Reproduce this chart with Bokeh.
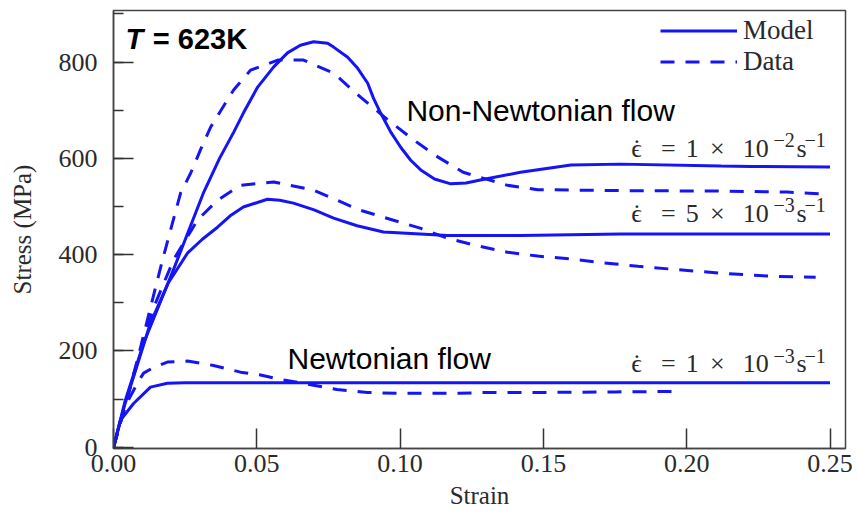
from bokeh.plotting import figure
from bokeh.models import (Range1d, FixedTicker, SingleIntervalTicker, NumeralTickFormatter,
                          Label, Legend, LegendItem)
from bokeh.embed import file_html
from bokeh.resources import INLINE

# ---- data ----
# strain rate 1e-2 s^-1
model_1e2_x = [0, 0.004, 0.0105, 0.021, 0.0315, 0.037, 0.042, 0.0454, 0.0503, 0.0559, 0.0607, 0.0652,
               0.0698, 0.0747, 0.0768, 0.0817, 0.0852, 0.0887, 0.0907, 0.0932, 0.0967, 0.1002, 0.1037,
               0.1072, 0.112, 0.1177, 0.123, 0.128, 0.142, 0.1596, 0.177, 0.212, 0.2224, 0.25]
model_1e2_y = [0, 95, 216, 370, 530, 600, 655, 695, 748, 790, 819, 835,
               842, 839, 831, 810, 787, 756, 725, 694, 655, 623, 596,
               576, 557, 547, 549, 555, 571, 586, 588, 584, 583, 582]
data_1e2_x = [0, 0.004, 0.0085, 0.0129, 0.0171, 0.0234, 0.0269, 0.0303, 0.0339, 0.0419, 0.0478, 0.0573,
              0.0663, 0.0768, 0.0862, 0.0957, 0.1048, 0.1131, 0.122, 0.1375, 0.148, 0.176, 0.211, 0.235, 0.248]
data_1e2_y = [0, 85, 185, 290, 389, 528, 569, 617, 665, 742, 783, 804,
              804, 777, 727, 680, 638, 603, 571, 544, 535, 533, 532, 530, 526]

# strain rate 5e-3 s^-1
model_5e3_x = [0, 0.004, 0.0129, 0.019, 0.0258, 0.031, 0.0363, 0.041, 0.0453, 0.0537, 0.058, 0.0628,
               0.07, 0.0768, 0.085, 0.0942, 0.107, 0.1166, 0.142, 0.177, 0.212, 0.25]
model_5e3_y = [0, 90, 258, 340, 403, 432, 457, 482, 499, 515, 513, 507,
               493, 476, 460, 447, 443, 440, 440, 443, 443, 443]
data_5e3_x = [0, 0.004, 0.0085, 0.014, 0.021, 0.0293, 0.0363, 0.0443, 0.0559, 0.0698, 0.0862, 0.107,
              0.1166, 0.1257, 0.1375, 0.148, 0.1596, 0.171, 0.183, 0.1945, 0.2128, 0.23, 0.245]
data_5e3_y = [0, 85, 180, 290, 390, 472, 513, 544, 551, 534, 492, 455,
              434, 420, 405, 397, 391, 383, 376, 370, 361, 355, 353]

# strain rate 1e-3 s^-1
model_1e3_x = [0, 0.0024, 0.007, 0.0129, 0.0188, 0.025, 0.05, 0.1, 0.15, 0.2, 0.25]
model_1e3_y = [0, 56, 91, 125, 133, 134, 134, 134, 134, 134, 134]
data_1e3_x = [0, 0.004, 0.0085, 0.0105, 0.014, 0.0188, 0.0258, 0.0349, 0.0443, 0.0513, 0.0583,
              0.0698, 0.078, 0.0886, 0.099, 0.1096, 0.12, 0.1305, 0.1514, 0.175, 0.197]
data_1e3_y = [0, 85, 135, 154, 166, 177, 179, 170, 156, 150, 141,
              129, 120, 114, 112, 112, 112, 114, 114, 115, 116]

x_ticks = [0.0, 0.05, 0.10, 0.15, 0.20, 0.25]
rate_mantissa = ["1", "5", "1"]
rate_exponent = ["\u22122", "\u22123", "\u22123"]
rate_label_y = [621, 486, 173]
rate_label_right = 0.2485

BLUE = "#1414F5"
SERIF = "Liberation Serif"
SANS = "Liberation Sans"
DASH = "14 11"
TXT = "#2a2a2a"

p = figure(width=858, height=513, output_backend="svg", toolbar_location=None,
           x_range=Range1d(0, 0.2554), y_range=Range1d(-2.5, 907),
           min_border_left=113, min_border_right=13, min_border_top=10, min_border_bottom=65)
p.grid.visible = False
p.outline_line_color = "#444444"
p.outline_line_width = 1.5
p.background_fill_color = "white"
p.border_fill_color = "white"

r_m1 = p.line(model_1e2_x, model_1e2_y, line_color=BLUE, line_width=3)
r_d1 = p.line(data_1e2_x, data_1e2_y, line_color=BLUE, line_width=3, line_dash=DASH)
p.line(model_5e3_x, model_5e3_y, line_color=BLUE, line_width=3)
p.line(data_5e3_x, data_5e3_y, line_color=BLUE, line_width=3, line_dash=DASH)
p.line(model_1e3_x, model_1e3_y, line_color=BLUE, line_width=3)
p.line(data_1e3_x, data_1e3_y, line_color=BLUE, line_width=3, line_dash=DASH)

# axes
p.xaxis.ticker = FixedTicker(ticks=x_ticks, minor_ticks=[])
p.xaxis.formatter = NumeralTickFormatter(format="0.00")
p.yaxis.ticker = SingleIntervalTicker(interval=200, num_minor_ticks=2)
for ax in (p.xaxis[0], p.yaxis[0]):
    ax.major_tick_in = 20
    ax.major_tick_out = 0
    ax.minor_tick_in = 10
    ax.minor_tick_out = 0
    ax.axis_line_color = "#444444"
    ax.axis_line_width = 1.5
    ax.major_tick_line_color = "#333333"
    ax.major_tick_line_width = 1.5
    ax.minor_tick_line_color = "#333333"
    ax.minor_tick_line_width = 1.5
    ax.major_label_text_font = SERIF
    ax.major_label_text_font_size = "26px"
    ax.major_label_text_color = TXT
    ax.axis_label_text_font = SERIF
    ax.axis_label_text_font_size = "25px"
    ax.axis_label_text_font_style = "normal"
    ax.axis_label_text_color = TXT
p.xaxis.axis_label = "Strain"
p.yaxis.axis_label = "Stress (MPa)"
p.xaxis.major_label_standoff = 6
p.xaxis.axis_label_standoff = 7
p.yaxis.major_label_standoff = 16
p.yaxis.axis_label_standoff = 20

# annotations
p.add_layout(Label(x=0.0042, y=848, text="T", text_font=SANS, text_font_size="29px",
                   text_font_style="bold italic", text_color="black", text_baseline="alphabetic"))
p.add_layout(Label(x=0.0137, y=848, text="= 623K", text_font=SANS, text_font_size="29px",
                   text_font_style="bold", text_color="black", text_baseline="alphabetic"))
p.add_layout(Label(x=0.1022, y=700, text="Non-Newtonian flow", text_font=SANS, text_font_size="30px",
                   text_color="black", text_baseline="alphabetic"))
p.add_layout(Label(x=0.0607, y=184, text="Newtonian flow", text_font=SANS, text_font_size="30px",
                   text_color="black", text_baseline="alphabetic"))

# strain-rate labels, built from pieces so the exponents are real superscripts
for mant, expo, ly in zip(rate_mantissa, rate_exponent, rate_label_y):
    common = dict(x=rate_label_right, y=ly, text_color=TXT, text_baseline="alphabetic",
                  text_font=SERIF)
    pieces = [("\u22121", "20px", 0, 8, "right"),
              ("s", "26px", -19, 0, "right"),
              (expo, "20px", -31, 8, "right"),
              ("10", "26px", -57, 0, "right"),
              ("\u00d7", "26px", -101, 0, "right"),
              (mant, "26px", -127, 0, "right"),
              ("=", "26px", -150, 0, "right"),
              ("\u03f5", "26px", -184, 0, "right"),
              ("\u02d9", "26px", -189, 0, "center")]
    for txt, size, xo, yo, align in pieces:
        p.add_layout(Label(text=txt, text_font_size=size, x_offset=xo, y_offset=yo,
                           text_align=align, **common))

legend = Legend(items=[LegendItem(label="Model", renderers=[r_m1]),
                       LegendItem(label="Data", renderers=[r_d1])],
                location=(547, 371), glyph_width=77, glyph_height=29, label_height=29,
                label_standoff=6, padding=0, margin=0, spacing=0,
                border_line_color=None, background_fill_alpha=0,
                label_text_font=SERIF, label_text_font_size="27px", label_text_color=TXT)
p.add_layout(legend)

open("out.html", "w").write(file_html(p, INLINE))
